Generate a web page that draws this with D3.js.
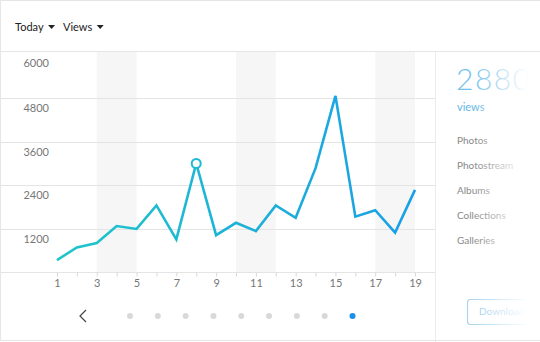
<!DOCTYPE html>
<html>
<head>
<meta charset="utf-8">
<script src="https://cdn.jsdelivr.net/npm/d3@7"></script>
<style>
  body { margin: 0; background: #fff; }
  svg { display: block; font-family: Lato, "Open Sans", sans-serif; }
</style>
</head>
<body>
<svg id="chart" width="540" height="342"></svg>
<script>
// data
const days = [1, 2, 3, 4, 5, 6, 7, 8, 9, 10, 11, 12, 13, 14, 15, 16, 17, 18, 19];
const views = [330, 680, 800, 1270, 1190, 1840, 900, 3000, 1020, 1360, 1130, 1840, 1500, 2870, 4870, 1530, 1710, 1090, 2270];
const yTicks = [1200, 2400, 3600, 4800, 6000];
const xLabels = [1, 3, 5, 7, 9, 11, 13, 15, 17, 19];
const weekendBands = [[3, 5], [10, 12], [17, 19]];
const menuItems = ["Photos", "Photostream", "Albums", "Collections", "Galleries"];
const headerMenus = ["Today", "Views"];
const pageCount = 9;
const activePage = 8;
const highlightDay = 8;
const total = "2880";

const w = 540, h = 342;
const plotTop = 52, plotBottom = 272, panelX = 435;

const svg = d3.select("#chart");

// scales
const x = d3.scaleLinear().domain([1, 19]).range([57, 415]);
const y = d3.scaleLinear().domain([0, 6000]).range([plotBottom, 55]);

// defs: line gradient + fade for right panel
const defs = svg.append("defs");
const lg = defs.append("linearGradient").attr("id", "lineGrad")
    .attr("gradientUnits", "userSpaceOnUse")
    .attr("x1", x(1)).attr("x2", x(19)).attr("y1", 0).attr("y2", 0);
lg.append("stop").attr("offset", "0%").attr("stop-color", "#1fc6c9");
lg.append("stop").attr("offset", "100%").attr("stop-color", "#1a9fe6");

const fade = defs.append("linearGradient").attr("id", "fade")
    .attr("x1", "0").attr("x2", "1").attr("y1", "0").attr("y2", "0");
fade.append("stop").attr("offset", "0%").attr("stop-color", "#fff").attr("stop-opacity", 0);
fade.append("stop").attr("offset", "80%").attr("stop-color", "#fff").attr("stop-opacity", 0.97);
fade.append("stop").attr("offset", "100%").attr("stop-color", "#fff").attr("stop-opacity", 1);

//weekend bands
svg.selectAll(".band")
    .data(weekendBands)
    .join("rect")
    .attr("class", "band")
    .attr("x", d => x(d[0]))
    .attr("y", plotTop)
    .attr("width", d => x(d[1]) - x(d[0]))
    .attr("height", plotBottom - plotTop)
    .attr("fill", "#f6f6f6");

// gridlines
svg.selectAll(".grid")
    .data(yTicks.filter(d => d < 6000).concat([0]))
    .join("line")
    .attr("class", "grid")
    .attr("x1", 0).attr("x2", panelX)
    .attr("y1", d => Math.round(y(d)) + 0.5)
    .attr("y2", d => Math.round(y(d)) + 0.5)
    .attr("stroke", "#e4e4e4");

// y labels
svg.selectAll(".ylab")
    .data(yTicks)
    .join("text")
    .attr("class", "ylab")
    .attr("x", 49)
    .attr("y", d => d === 6000 ? y(d) + 12 : y(d) + 14)
    .attr("text-anchor", "end")
    .attr("font-size", "11px")
    .attr("fill", "#777")
    .text(d => d);

// x axis
const xAxis = d3.axisBottom(x).tickValues(days).tickSize(4).tickFormat(d => xLabels.includes(d) ? d : "");
const gx = svg.append("g")
    .attr("transform", "translate(0," + (plotBottom + 0.5) + ")")
    .call(xAxis);
gx.select(".domain").remove();
gx.selectAll(".tick line").attr("stroke", "#d8d8d8");
gx.selectAll(".tick text")
    .attr("dy", "0.9em")
    .attr("y", 5)
    .attr("font-family", "Lato, 'Open Sans', sans-serif")
    .attr("font-size", "11px")
    .attr("fill", "#777");

// the line
const line = d3.line()
    .x((d, i) => x(days[i]))
    .y(d => y(d));

svg.append("path")
    .datum(views)
    .attr("d", line)
    .attr("fill", "none")
    .attr("stroke", "url(#lineGrad)")
    .attr("stroke-width", 2.6)
    .attr("stroke-linejoin", "miter");

const hi = days.indexOf(highlightDay);
svg.append("circle")
    .attr("cx", x(days[hi]))
    .attr("cy", y(views[hi]))
    .attr("r", 4.5)
    .attr("fill", "#fff")
    .attr("stroke", "#1dbad3")
    .attr("stroke-width", 2);

// header
svg.append("line").attr("x1", 0).attr("x2", w).attr("y1", plotTop - 0.5).attr("y2", plotTop - 0.5).attr("stroke", "#e6e6e6");
svg.append("line").attr("x1", panelX + 0.5).attr("x2", panelX + 0.5).attr("y1", plotTop).attr("y2", h).attr("stroke", "#ececec");

const menuX = [15, 63];
headerMenus.forEach((m, i) => {
    const t = svg.append("text")
        .attr("x", menuX[i]).attr("y", 31)
        .attr("font-size", "11px")
        .attr("fill", "#222")
        .text(m);
    const tw = t.node().getComputedTextLength();
    const cx = menuX[i] + tw + 8;
    svg.append("path")
        .attr("d", "M" + (cx - 3.5) + ",25 L" + (cx + 3.5) + ",25 L" + cx + ",29 Z")
        .attr("fill", "#222");
});

// right panel
svg.append("text")
    .attr("x", 456).attr("y", 90)
    .attr("font-size", "30px")
    .attr("font-weight", 300)
    .attr("letter-spacing", "1.5px")
    .attr("fill", "#74c2ec")
    .text(total);

svg.append("text")
    .attr("x", 457).attr("y", 111)
    .attr("font-size", "11px")
    .attr("fill", "#5fb5e8")
    .text("views");

svg.selectAll(".menu")
    .data(menuItems)
    .join("text")
    .attr("class", "menu")
    .attr("x", 457)
    .attr("y", (d, i) => 144 + i * 25)
    .attr("font-size", "10px")
    .attr("fill", "#888")
    .text(d => d);

svg.append("rect")
    .attr("x", 467.5).attr("y", 299.5)
    .attr("width", 90).attr("height", 25)
    .attr("rx", 3)
    .attr("fill", "#fff")
    .attr("stroke", "#a9d5f1")
    .attr("stroke-width", 1.2);
svg.append("text")
    .attr("x", 479).attr("y", 315)
    .attr("font-size", "10px")
    .attr("fill", "#9ccbee")
    .text("Download");

// fade the right panel out
svg.append("rect")
    .attr("x", 472).attr("y", plotTop)
    .attr("width", w - 472).attr("height", h - plotTop)
    .attr("fill", "url(#fade)");

// pagination
svg.append("path")
    .attr("d", "M86,310 L80,316 L86,322")
    .attr("fill", "none")
    .attr("stroke", "#444")
    .attr("stroke-width", 1.2);

const pager = d3.scaleLinear().domain([0, pageCount - 1]).range([130, 352.5]);
svg.selectAll(".dot")
    .data(d3.range(pageCount))
    .join("circle")
    .attr("class", "dot")
    .attr("cx", d => pager(d))
    .attr("cy", 316)
    .attr("r", 3)
    .attr("fill", d => d === activePage ? "#1a8fe6" : "#d9d9d9");

// card border
svg.append("rect")
    .attr("x", 0.5).attr("y", 0.5)
    .attr("width", w + 10).attr("height", h - 2)
    .attr("fill", "none")
    .attr("stroke", "#e6e6e6");
</script>
</body>
</html>
